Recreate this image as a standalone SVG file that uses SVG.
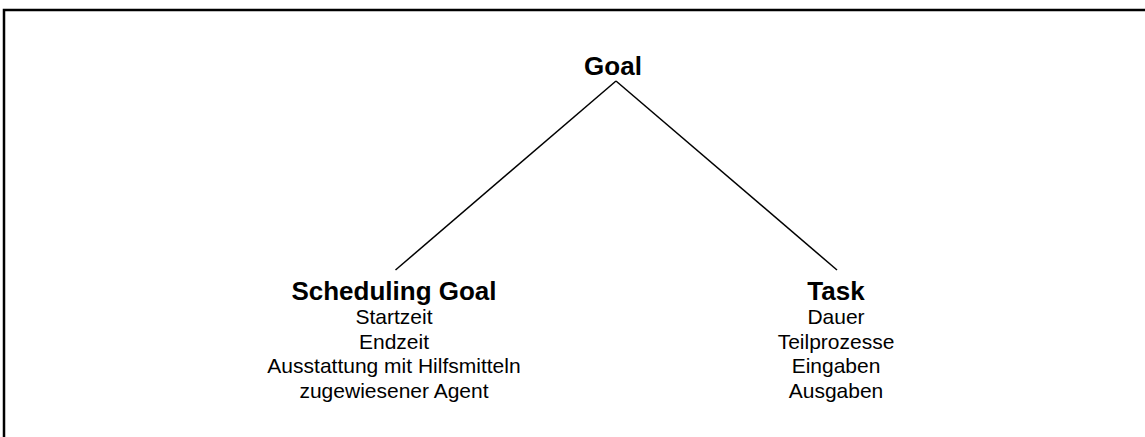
<svg xmlns="http://www.w3.org/2000/svg" width="1145" height="437" viewBox="0 0 1145 437">
<style>
.t{font-family:"Liberation Sans",Arial,sans-serif;fill:#000;text-anchor:middle}
.h{font-weight:bold;font-size:26px}
.s{font-size:21px}
.c{stroke:#000;stroke-width:1.5;fill:none}
</style>
<rect x="0" y="0" width="1145" height="437" fill="#fff"/>
<rect x="4" y="10" width="1150" height="440" fill="none" stroke="#000" stroke-width="2.5"/>
<g id="connectors">
<line class="c" x1="616" y1="81" x2="395.5" y2="270"/>
<line class="c" x1="616" y1="81" x2="837" y2="270"/>
</g>
<g id="goal">
<text class="t h" x="613" y="75">Goal</text>
</g>
<g id="scheduling-goal">
<text class="t h" x="394" y="300">Scheduling Goal</text>
<text class="t s" x="394" y="324">Startzeit</text>
<text class="t s" x="394" y="349">Endzeit</text>
<text class="t s" x="394" y="373">Ausstattung mit Hilfsmitteln</text>
<text class="t s" x="394" y="398">zugewiesener Agent</text>
</g>
<g id="task">
<text class="t h" x="836" y="300">Task</text>
<text class="t s" x="836" y="324">Dauer</text>
<text class="t s" x="836" y="349">Teilprozesse</text>
<text class="t s" x="836" y="373">Eingaben</text>
<text class="t s" x="836" y="398">Ausgaben</text>
</g>
</svg>
